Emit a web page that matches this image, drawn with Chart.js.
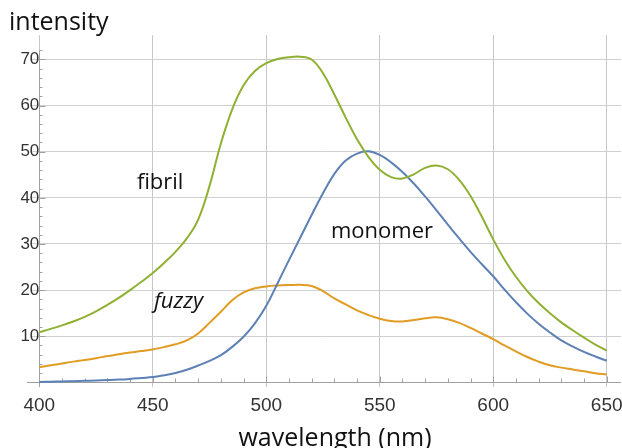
<!DOCTYPE html>
<html><head><meta charset="utf-8">
<script src="https://cdn.jsdelivr.net/npm/chart.js@4.4.0/dist/chart.umd.min.js"></script>
<style>html,body{margin:0;padding:0;background:#fff;}#wrap{width:622px;height:448px;position:relative;}</style>
</head><body><div id="wrap"><canvas id="c" width="622" height="448"></canvas></div>
<script>
const wavelengths = [400,405,410,415,420,425,430,435,440,445,450,455,460,465,470,475,480,485,490,495,500,505,510,515,520,525,530,535,540,545,550,555,560,565,570,575,580,585,590,595,600,605,610,615,620,625,630,635,640,645,650];
const fibril = [10.9,11.6,12.35,13.2,14.2,15.4,16.8,18.3,20.0,21.8,23.7,25.9,28.3,31.2,35.3,42.6,51.8,59.2,64.4,67.5,69.2,70.1,70.5,70.6,70.0,67.0,62.4,57.4,52.7,48.9,46.1,44.5,44.2,45.1,46.5,47.0,46.2,43.9,40.4,35.9,31.0,26.6,22.9,19.8,17.2,15.0,13.0,11.3,9.7,8.2,6.9];
const monomer = [0.1,0.15,0.2,0.27,0.34,0.42,0.5,0.6,0.75,0.95,1.15,1.55,2.05,2.75,3.65,4.65,5.9,7.7,9.9,12.8,16.6,21.5,26.5,31.4,36.3,41.0,45.2,48.1,49.6,50.1,49.3,47.7,45.6,43.1,40.3,37.3,34.2,31.2,28.3,25.6,23.0,20.1,17.4,14.9,12.7,10.8,9.1,7.8,6.6,5.6,4.7];
const fuzzy = [3.3,3.7,4.1,4.5,4.85,5.25,5.7,6.1,6.5,6.8,7.15,7.65,8.25,9.1,10.6,12.9,15.3,17.8,19.5,20.4,20.8,21.0,21.1,21.15,20.9,19.8,18.2,16.9,15.6,14.6,13.8,13.3,13.2,13.5,13.9,14.1,13.7,12.9,11.8,10.6,9.4,8.0,6.7,5.5,4.5,3.7,3.2,2.8,2.4,2.0,1.7];
const xTicks = [400,450,500,550,600,650];
const yTicks = [10,20,30,40,50,60,70];
const curveLabels = [
  {text:'fibril', x:443, y:41.9, italic:false},
  {text:'monomer', x:528.5, y:31.4, italic:false},
  {text:'fuzzy', x:450.5, y:16.2, italic:true}
];
const yAxisTitle = 'intensity';
const xAxisTitle = 'wavelength (nm)';

function pts(arr){ return wavelengths.map((w,i)=>({x:w,y:arr[i]})); }

const axesPlugin = {
  id:'axesTicks',
  beforeDatasetsDraw(chart){
    const {ctx, chartArea:a, scales:{x,y}} = chart;
    const x0 = Math.round(x.getPixelForValue(400))+0.5;
    const y0 = Math.round(y.getPixelForValue(0))+0.5;
    ctx.save();
    ctx.strokeStyle = '#a0a0a0';
    ctx.lineWidth = 1;
    ctx.beginPath();
    ctx.moveTo(a.left-3, y0); ctx.lineTo(a.right, y0);
    ctx.moveTo(x0, y.getPixelForValue(72)); ctx.lineTo(x0, a.bottom);
    for (let v=400; v<=650; v+=10){
      const px = Math.round(x.getPixelForValue(v))+0.5;
      const len = (v%50===0)?6:4;
      ctx.moveTo(px, y0); ctx.lineTo(px, y0-len);
    }
    for (let v=2; v<=72; v+=2){
      const py = Math.round(y.getPixelForValue(v))+0.5;
      const len = (v%10===0)?6:3;
      ctx.moveTo(x0, py); ctx.lineTo(x0+len, py);
    }
    ctx.stroke();
    ctx.restore();
  },
  afterDatasetsDraw(chart){
    const {ctx, scales:{x,y}} = chart;
    ctx.save();
    ctx.fillStyle = '#111';
    ctx.textBaseline = 'alphabetic';
    ctx.textAlign = 'left';
    curveLabels.forEach(l=>{
      ctx.font = (l.italic?'italic ':'') + '22px "Open Sans"';
      ctx.fillText(l.text, x.getPixelForValue(l.x), y.getPixelForValue(l.y));
    });
    ctx.font = '25px "Open Sans"';
    ctx.fillText(yAxisTitle, 9, 30);
    ctx.textAlign = 'center';
    ctx.font = '25px "Open Sans"';
    ctx.fillText(xAxisTitle, 335, 446);
    ctx.restore();
  }
};

const noPad = s => { s.paddingLeft = 0; s.paddingRight = 0; s.paddingTop = 0; s.paddingBottom = 0; };

new Chart(document.getElementById('c'), {
  type:'line',
  data:{ datasets:[
    {label:'fibril', data:pts(fibril), borderColor:'#8FB032'},
    {label:'monomer', data:pts(monomer), borderColor:'#5E81B5'},
    {label:'fuzzy', data:pts(fuzzy), borderColor:'#E19C24'}
  ]},
  options:{
    responsive:false, animation:false, devicePixelRatio:1,
    layout:{padding:{left:30, right:1, top:35, bottom:61}},
    elements:{line:{borderWidth:2, tension:0.4, fill:false}, point:{radius:0}},
    plugins:{legend:{display:false}, tooltip:{enabled:false}, title:{display:false}},
    scales:{
      x:{type:'linear', min:395.9, max:656.3, position:{y:0},
        afterBuildTicks:s=>{s.ticks = xTicks.map(v=>({value:v}));},
        afterFit:noPad,
        ticks:{font:{family:'Liberation Sans', size:19}, color:'#333', padding:12, maxRotation:0, autoSkip:false},
        grid:{color:'#c6c6c6', lineWidth:1, drawTicks:false}, border:{display:false}},
      y:{type:'linear', min:-1, max:75.3, position:{x:400},
        afterBuildTicks:s=>{s.ticks = yTicks.map(v=>({value:v}));},
        afterFit:noPad,
        ticks:{font:{family:'Liberation Sans', size:17}, color:'#333', padding:7, autoSkip:false},
        grid:{color:'#d0d0d0', lineWidth:1, drawTicks:false}, border:{display:false}}
    }
  },
  plugins:[axesPlugin]
});
</script></body></html>
